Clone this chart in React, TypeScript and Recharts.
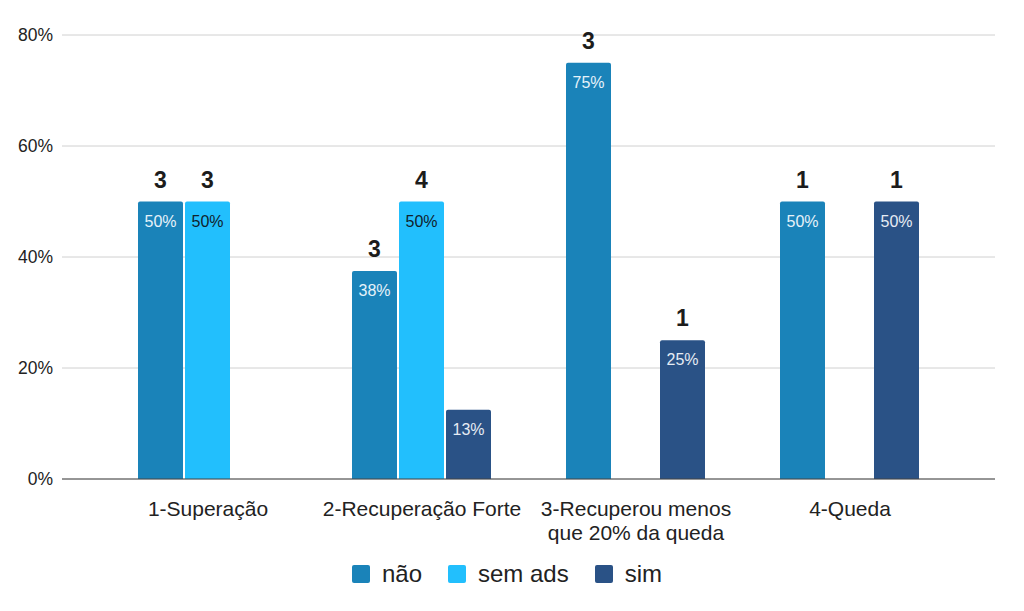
import { Bar, BarChart, CartesianGrid, LabelList, Legend, XAxis, YAxis } from 'recharts'

const categories = ['1-Superação', '2-Recuperação Forte', '3-Recuperou menos que 20% da queda', '4-Queda']
const categoryLines = [['1-Superação'], ['2-Recuperação Forte'], ['3-Recuperou menos', 'que 20% da queda'], ['4-Queda']]

// share of each group (percent) and raw counts shown above bars
const naoPct = [50, 37.5, 75, 50]
const semAdsPct = [50, 50, null, null]
const simPct = [null, 12.5, 25, 50]
const naoCount = [3, 3, 3, 1]
const semAdsCount = [3, 4, null, null]
const simCount = [null, 1, 1, 1]

const yTicks = [0, 20, 40, 60, 80]

const COLORS = { nao: '#1a83b9', semAds: '#22bffd', sim: '#2a5286' }
const FONT = '"Liberation Sans", Arial, sans-serif'

const data = categories.map((name, i) => ({
  name,
  nao: naoPct[i],
  semAds: semAdsPct[i],
  sim: simPct[i],
  naoCount: naoCount[i],
  semAdsCount: semAdsCount[i],
  simCount: simCount[i],
}))

function barLabel(countKey: string, pctColor: string) {
  return function BarLabel(props: any) {
    const { x, y, width, index, value } = props
    if (value == null) return null
    const count = (data[index] as any)[countKey]
    const cx = Number(x) + Number(width) / 2
    const top = Number(y)
    return (
      <g>
        <text x={cx} y={top - 14} textAnchor="middle" fill="#1c1c1c" fontSize={23} fontWeight={700} fontFamily={FONT}>
          {count}
        </text>
        <text x={cx} y={top + 25} textAnchor="middle" fill={pctColor} fontSize={16} fontFamily={FONT}>
          {`${Math.round(value)}%`}
        </text>
      </g>
    )
  }
}

function CategoryTick(props: any) {
  const { x, y, index } = props
  const lines = categoryLines[index] ?? []
  return (
    <g>
      {lines.map((line, i) => (
        <text key={i} x={x} y={y + 29 + i * 24} textAnchor="middle" fill="#222" fontSize={21} fontFamily={FONT}>
          {line}
        </text>
      ))}
    </g>
  )
}

const legendItems = [
  { label: 'não', color: COLORS.nao },
  { label: 'sem ads', color: COLORS.semAds },
  { label: 'sim', color: COLORS.sim },
]

function LegendContent() {
  return (
    <div
      style={{
        display: 'flex',
        justifyContent: 'center',
        gap: 26,
        marginLeft: 19,
        fontFamily: FONT,
        fontSize: 24,
        lineHeight: '26px',
        color: '#222',
      }}
    >
      {legendItems.map((item) => (
        <div key={item.label} style={{ display: 'flex', alignItems: 'center', gap: 12 }}>
          <span style={{ width: 18, height: 18, borderRadius: 2, background: item.color, display: 'inline-block' }} />
          <span>{item.label}</span>
        </div>
      ))}
    </div>
  )
}

export default function App() {
  return (
    <div style={{ position: 'absolute', left: 0, top: 0, width: 1024, height: 611, background: '#fff' }}>
      <BarChart
        width={1024}
        height={611}
        data={data}
        margin={{ top: 35, right: 29, left: 0, bottom: 46 }}
        barCategoryGap={37}
        barGap={2}
      >
        <CartesianGrid vertical={false} stroke="#d0d0d0" strokeWidth={1} />
        <XAxis
          dataKey="name"
          padding={{ left: 39, right: 38 }}
          axisLine={{ stroke: '#444', strokeWidth: 1 }}
          tickLine={false}
          tick={<CategoryTick />}
          interval={0}
          height={60}
        />
        <YAxis
          width={62}
          domain={[0, 80]}
          ticks={yTicks}
          axisLine={false}
          tickLine={false}
          tickFormatter={(v) => `${v}%`}
          tick={{ fill: '#222', fontSize: 17.5, fontFamily: FONT }}
          dx={-1}
        />
        <Legend verticalAlign="bottom" content={<LegendContent />} wrapperStyle={{ bottom: 24 }} />
        <Bar dataKey="nao" name="não" fill={COLORS.nao} radius={[2, 2, 0, 0]} isAnimationActive={false}>
          <LabelList dataKey="nao" content={barLabel('naoCount', '#e6f2f9')} />
        </Bar>
        <Bar dataKey="semAds" name="sem ads" fill={COLORS.semAds} radius={[2, 2, 0, 0]} isAnimationActive={false}>
          <LabelList dataKey="semAds" content={barLabel('semAdsCount', '#10222c')} />
        </Bar>
        <Bar dataKey="sim" name="sim" fill={COLORS.sim} radius={[2, 2, 0, 0]} isAnimationActive={false}>
          <LabelList dataKey="sim" content={barLabel('simCount', '#e6ecf4')} />
        </Bar>
      </BarChart>
    </div>
  )
}
